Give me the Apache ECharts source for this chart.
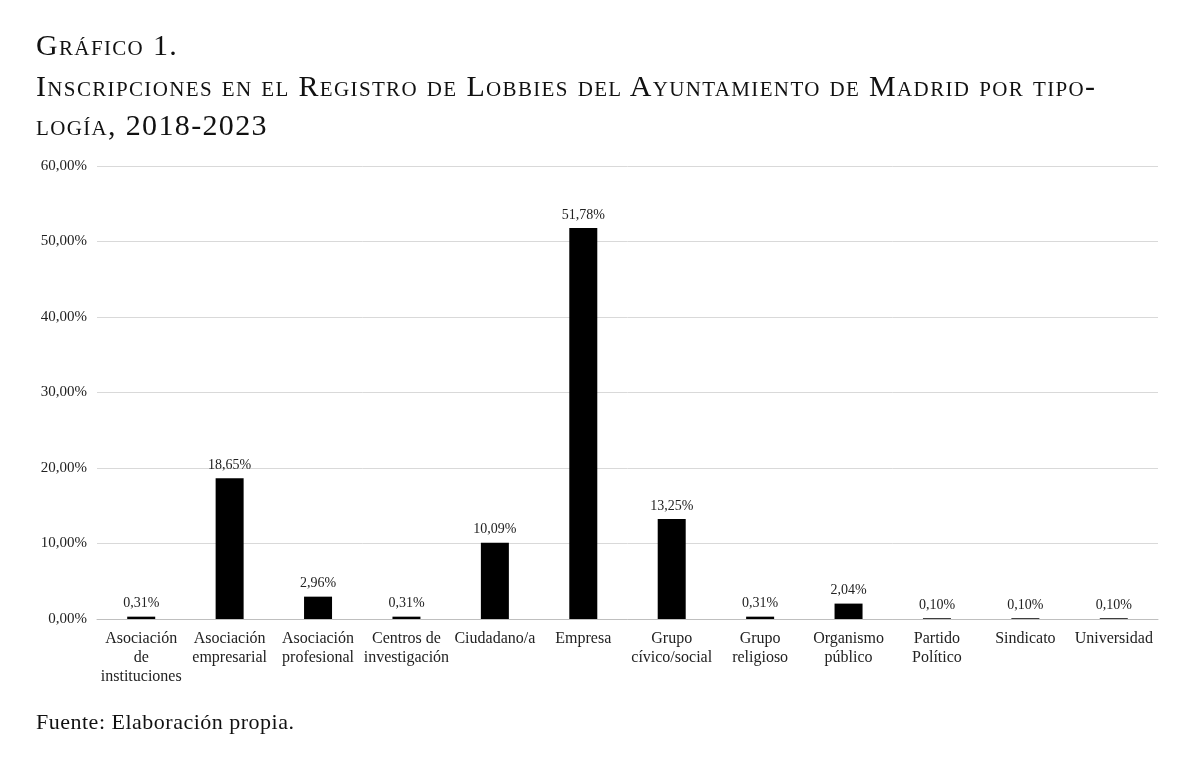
<!DOCTYPE html>
<html>
<head>
<meta charset="utf-8">
<script src="https://cdn.jsdelivr.net/npm/echarts@6/dist/echarts.min.js"></script>
<style>
  html, body { margin: 0; padding: 0; background: #fff; }
  #wrap { position: relative; width: 1196px; height: 770px; overflow: hidden; }
  #chart { position: absolute; left: 0; top: 0; width: 1196px; height: 770px; }
  .t { position: absolute; left: 36px; font-family: "Liberation Serif", "DejaVu Serif", serif; color: #111; font-variant: small-caps; font-size: 30px; letter-spacing: 1.35px; white-space: nowrap; }
  #src { position: absolute; left: 36px; top: 709px; font-family: "Liberation Serif", "DejaVu Serif", serif; font-size: 22px; letter-spacing: 0.5px; color: #111; }
</style>
</head>
<body>
<div id="wrap">
  <div id="chart"></div>
  <div class="t" style="top:28px">Gráfico 1.</div>
  <div class="t" style="top:69px">Inscripciones en el Registro de Lobbies del Ayuntamiento de Madrid por tipo-</div>
  <div class="t" style="top:108px">logía, 2018-2023</div>
  <div id="src">Fuente: Elaboración propia.</div>
</div>
<script>
const categories = [
  "Asociación\nde\ninstituciones",
  "Asociación\nempresarial",
  "Asociación\nprofesional",
  "Centros de\ninvestigación",
  "Ciudadano/a",
  "Empresa",
  "Grupo\ncívico/social",
  "Grupo\nreligioso",
  "Organismo\npúblico",
  "Partido\nPolítico",
  "Sindicato",
  "Universidad"
];
const values = [0.31, 18.65, 2.96, 0.31, 10.09, 51.78, 13.25, 0.31, 2.04, 0.10, 0.10, 0.10];
const yTicks = [0, 10, 20, 30, 40, 50, 60];

const fmt = v => v.toFixed(2).replace('.', ',') + '%';
const serif = '"Liberation Serif", "DejaVu Serif", serif';

const chart = echarts.init(document.getElementById('chart'), null, { renderer: 'canvas' });
chart.setOption({
  animation: false,
  backgroundColor: '#fff',
  grid: { left: 97, right: 38, top: 166, bottom: 151, containLabel: false },
  xAxis: {
    type: 'category',
    data: categories,
    axisLine: { show: true, lineStyle: { color: '#bfbfbf', width: 1 } },
    axisTick: { show: false },
    axisLabel: { interval: 0, fontFamily: serif, fontSize: 16, color: '#222', lineHeight: 19, margin: 10 }
  },
  yAxis: {
    type: 'value',
    min: yTicks[0],
    max: yTicks[yTicks.length - 1],
    interval: 10,
    axisLine: { show: false },
    axisTick: { show: false },
    splitLine: { show: true, lineStyle: { color: '#d9d9d9', width: 1 } },
    axisLabel: { fontFamily: serif, fontSize: 15, color: '#222', margin: 10, formatter: v => fmt(v) }
  },
  series: [{
    type: 'bar',
    data: values,
    barWidth: 28,
    itemStyle: { color: '#000' },
    label: {
      show: true, position: 'top', distance: 6,
      fontFamily: serif, fontSize: 14, color: '#222',
      formatter: p => fmt(p.value)
    }
  }]
});
</script>
</body>
</html>
